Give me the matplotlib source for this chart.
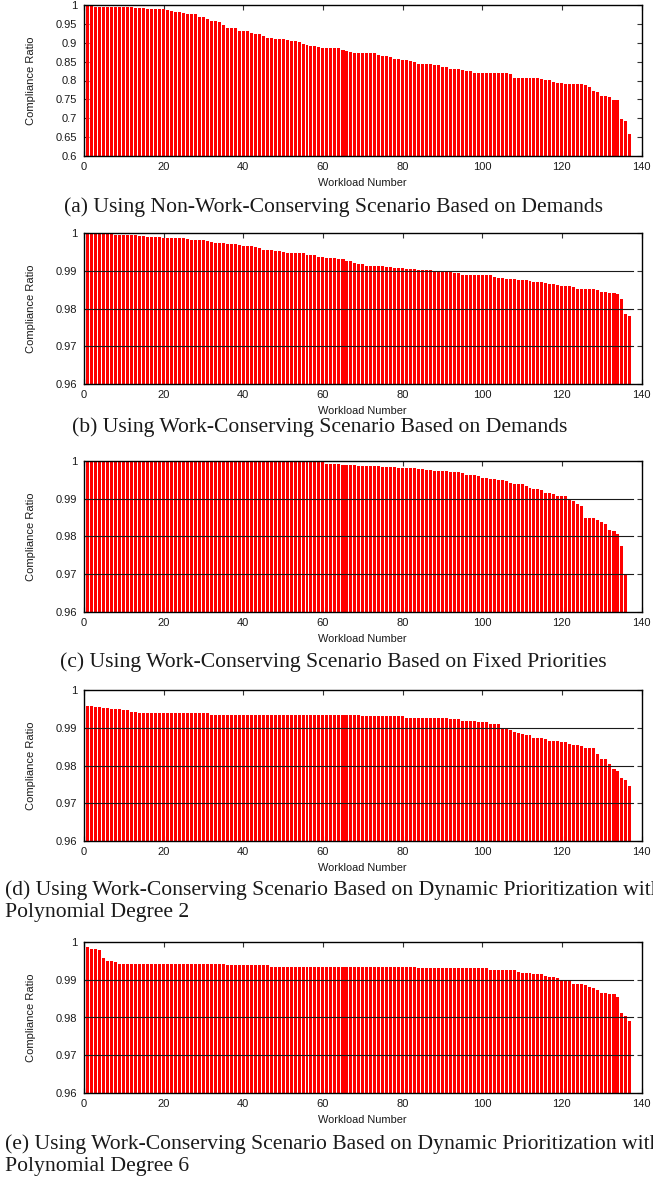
import matplotlib
matplotlib.use("Agg")
import matplotlib.pyplot as plt
import numpy as np

# ---------------- data ----------------
ratio_a = [
    1.000, 0.999, 0.998, 0.996, 0.996, 0.996, 0.996, 0.996, 0.994, 0.994,
    0.994, 0.994, 0.994, 0.992, 0.992, 0.992, 0.989, 0.989, 0.989, 0.989,
    0.989, 0.986, 0.983, 0.982, 0.982, 0.980, 0.977, 0.975, 0.975, 0.968,
    0.968, 0.962, 0.957, 0.957, 0.954, 0.948, 0.938, 0.938, 0.938, 0.930,
    0.930, 0.930, 0.925, 0.922, 0.922, 0.917, 0.913, 0.913, 0.911, 0.911,
    0.909, 0.906, 0.905, 0.905, 0.903, 0.896, 0.893, 0.891, 0.891, 0.888,
    0.885, 0.885, 0.885, 0.885, 0.885, 0.882, 0.878, 0.876, 0.872, 0.872,
    0.872, 0.872, 0.872, 0.872, 0.868, 0.864, 0.864, 0.861, 0.858, 0.858,
    0.855, 0.855, 0.852, 0.849, 0.843, 0.843, 0.843, 0.843, 0.840, 0.840,
    0.837, 0.835, 0.831, 0.831, 0.831, 0.829, 0.826, 0.824, 0.821, 0.821,
    0.821, 0.821, 0.821, 0.821, 0.821, 0.821, 0.821, 0.817, 0.806, 0.806,
    0.806, 0.806, 0.806, 0.806, 0.806, 0.803, 0.801, 0.801, 0.797, 0.794,
    0.794, 0.791, 0.791, 0.791, 0.791, 0.791, 0.789, 0.783, 0.772, 0.770,
    0.760, 0.758, 0.755, 0.749, 0.749, 0.698, 0.693, 0.659,
]

ratio_b = [
    1.0000, 1.0000, 1.0000, 1.0000, 1.0000, 1.0000, 1.0000, 1.0000, 0.9996, 0.9996,
    0.9996, 0.9996, 0.9996, 0.9996, 0.9993, 0.9993, 0.9990, 0.9990, 0.9990, 0.9990,
    0.9988, 0.9988, 0.9988, 0.9988, 0.9988, 0.9988, 0.9985, 0.9982, 0.9982, 0.9982,
    0.9982, 0.9980, 0.9977, 0.9974, 0.9974, 0.9974, 0.9972, 0.9972, 0.9972, 0.9969,
    0.9966, 0.9966, 0.9966, 0.9964, 0.9961, 0.9955, 0.9955, 0.9955, 0.9953, 0.9953,
    0.9950, 0.9948, 0.9948, 0.9948, 0.9948, 0.9948, 0.9942, 0.9942, 0.9942, 0.9937,
    0.9937, 0.9934, 0.9934, 0.9934, 0.9931, 0.9931, 0.9926, 0.9926, 0.9920, 0.9918,
    0.9918, 0.9913, 0.9913, 0.9913, 0.9913, 0.9913, 0.9910, 0.9910, 0.9908, 0.9908,
    0.9908, 0.9905, 0.9905, 0.9905, 0.9903, 0.9903, 0.9903, 0.9903, 0.9900, 0.9900,
    0.9900, 0.9900, 0.9900, 0.9894, 0.9894, 0.9890, 0.9890, 0.9890, 0.9890, 0.9888,
    0.9888, 0.9888, 0.9888, 0.9885, 0.9882, 0.9882, 0.9880, 0.9880, 0.9880, 0.9877,
    0.9877, 0.9877, 0.9874, 0.9872, 0.9872, 0.9872, 0.9869, 0.9866, 0.9866, 0.9863,
    0.9861, 0.9861, 0.9861, 0.9858, 0.9853, 0.9853, 0.9853, 0.9853, 0.9853, 0.9850,
    0.9845, 0.9845, 0.9842, 0.9842, 0.9840, 0.9826, 0.9786, 0.9780,
]

ratio_c = [
    1.0000, 1.0000, 1.0000, 1.0000, 1.0000, 1.0000, 1.0000, 1.0000, 1.0000, 1.0000,
    1.0000, 1.0000, 1.0000, 1.0000, 1.0000, 1.0000, 1.0000, 1.0000, 1.0000, 1.0000,
    1.0000, 1.0000, 1.0000, 1.0000, 1.0000, 1.0000, 1.0000, 1.0000, 1.0000, 1.0000,
    1.0000, 1.0000, 1.0000, 1.0000, 1.0000, 1.0000, 1.0000, 1.0000, 1.0000, 1.0000,
    1.0000, 1.0000, 1.0000, 1.0000, 1.0000, 1.0000, 1.0000, 1.0000, 1.0000, 1.0000,
    1.0000, 1.0000, 1.0000, 1.0000, 1.0000, 1.0000, 1.0000, 1.0000, 1.0000, 1.0000,
    1.0000, 0.9993, 0.9993, 0.9993, 0.9993, 0.9990, 0.9990, 0.9990, 0.9990, 0.9988,
    0.9988, 0.9988, 0.9988, 0.9988, 0.9988, 0.9985, 0.9985, 0.9985, 0.9985, 0.9982,
    0.9982, 0.9982, 0.9982, 0.9982, 0.9980, 0.9980, 0.9977, 0.9977, 0.9974, 0.9974,
    0.9974, 0.9974, 0.9972, 0.9972, 0.9972, 0.9969, 0.9964, 0.9964, 0.9964, 0.9961,
    0.9956, 0.9956, 0.9953, 0.9953, 0.9950, 0.9950, 0.9948, 0.9942, 0.9940, 0.9940,
    0.9940, 0.9935, 0.9929, 0.9927, 0.9927, 0.9924, 0.9916, 0.9916, 0.9913, 0.9908,
    0.9908, 0.9908, 0.9900, 0.9895, 0.9887, 0.9881, 0.9850, 0.9850, 0.9850, 0.9844,
    0.9839, 0.9834, 0.9818, 0.9814, 0.9807, 0.9775, 0.9700,
]

ratio_d = [
    0.9959, 0.9957, 0.9957, 0.9954, 0.9954, 0.9951, 0.9951, 0.9949, 0.9949, 0.9949,
    0.9946, 0.9946, 0.9943, 0.9943, 0.9940, 0.9940, 0.9940, 0.9940, 0.9940, 0.9940,
    0.9940, 0.9940, 0.9940, 0.9938, 0.9938, 0.9938, 0.9938, 0.9938, 0.9938, 0.9938,
    0.9938, 0.9938, 0.9935, 0.9935, 0.9935, 0.9935, 0.9935, 0.9935, 0.9935, 0.9935,
    0.9935, 0.9935, 0.9935, 0.9935, 0.9935, 0.9935, 0.9935, 0.9935, 0.9935, 0.9935,
    0.9935, 0.9935, 0.9933, 0.9933, 0.9933, 0.9933, 0.9933, 0.9933, 0.9933, 0.9933,
    0.9933, 0.9933, 0.9933, 0.9933, 0.9933, 0.9933, 0.9933, 0.9933, 0.9933, 0.9933,
    0.9930, 0.9930, 0.9930, 0.9930, 0.9930, 0.9930, 0.9930, 0.9930, 0.9930, 0.9930,
    0.9930, 0.9927, 0.9927, 0.9927, 0.9927, 0.9927, 0.9927, 0.9927, 0.9925, 0.9925,
    0.9925, 0.9925, 0.9922, 0.9922, 0.9922, 0.9919, 0.9919, 0.9919, 0.9919, 0.9914,
    0.9914, 0.9914, 0.9911, 0.9909, 0.9909, 0.9900, 0.9900, 0.9895, 0.9890, 0.9887,
    0.9884, 0.9882, 0.9882, 0.9874, 0.9874, 0.9874, 0.9869, 0.9866, 0.9864, 0.9864,
    0.9861, 0.9861, 0.9858, 0.9855, 0.9855, 0.9851, 0.9847, 0.9847, 0.9847, 0.9830,
    0.9816, 0.9816, 0.9803, 0.9790, 0.9785, 0.9766, 0.9761, 0.9745,
]

ratio_e = [
    0.9986, 0.9986, 0.9981, 0.9981, 0.9978, 0.9957, 0.9949, 0.9949, 0.9946, 0.9943,
    0.9943, 0.9943, 0.9943, 0.9943, 0.9943, 0.9941, 0.9941, 0.9941, 0.9941, 0.9941,
    0.9941, 0.9941, 0.9941, 0.9941, 0.9941, 0.9941, 0.9941, 0.9941, 0.9941, 0.9941,
    0.9941, 0.9941, 0.9941, 0.9941, 0.9941, 0.9941, 0.9938, 0.9938, 0.9938, 0.9938,
    0.9938, 0.9938, 0.9938, 0.9938, 0.9938, 0.9938, 0.9938, 0.9935, 0.9935, 0.9935,
    0.9935, 0.9935, 0.9935, 0.9935, 0.9935, 0.9935, 0.9935, 0.9935, 0.9935, 0.9933,
    0.9933, 0.9933, 0.9933, 0.9933, 0.9933, 0.9933, 0.9933, 0.9933, 0.9933, 0.9933,
    0.9933, 0.9933, 0.9933, 0.9933, 0.9933, 0.9933, 0.9933, 0.9933, 0.9933, 0.9933,
    0.9933, 0.9933, 0.9933, 0.9933, 0.9930, 0.9930, 0.9930, 0.9930, 0.9930, 0.9930,
    0.9930, 0.9930, 0.9930, 0.9930, 0.9930, 0.9930, 0.9930, 0.9930, 0.9930, 0.9930,
    0.9930, 0.9930, 0.9927, 0.9927, 0.9927, 0.9927, 0.9925, 0.9925, 0.9925, 0.9920,
    0.9917, 0.9917, 0.9917, 0.9914, 0.9914, 0.9914, 0.9909, 0.9906, 0.9906, 0.9904,
    0.9900, 0.9900, 0.9900, 0.9890, 0.9890, 0.9888, 0.9885, 0.9880, 0.9877, 0.9872,
    0.9866, 0.9866, 0.9861, 0.9861, 0.9853, 0.9813, 0.9805, 0.9792,
]

captions = [
    ["(a) Using Non-Work-Conserving Scenario Based on Demands"],
    ["(b) Using Work-Conserving Scenario Based on Demands"],
    ["(c) Using Work-Conserving Scenario Based on Fixed Priorities"],
    ["(d) Using Work-Conserving Scenario Based on Dynamic Prioritization with",
     "Polynomial Degree 2"],
    ["(e) Using Work-Conserving Scenario Based on Dynamic Prioritization with",
     "Polynomial Degree 6"],
]

x_ticks = [0, 20, 40, 60, 80, 100, 120, 140]
y_ticks_a = [0.6, 0.65, 0.7, 0.75, 0.8, 0.85, 0.9, 0.95, 1.0]
y_ticks_rest = [0.96, 0.97, 0.98, 0.99, 1.0]
grid_rest = [0.97, 0.98, 0.99]

# ---------------- layout ----------------
W, H = 653, 1183
fig = plt.figure(figsize=(W / 100, H / 100), dpi=100)

sans = ["Liberation Sans", "DejaVu Sans"]
serif = ["Liberation Serif", "DejaVu Serif"]

left_px, right_px = 84, 641.5
panels_px = [(5, 156), (233.3, 384), (461, 612), (690, 841), (942, 1093)]
series = [ratio_a, ratio_b, ratio_c, ratio_d, ratio_e]
ylims = [(0.6, 1.0)] + [(0.96, 1.0)] * 4
yticks = [y_ticks_a] + [y_ticks_rest] * 4
grids = [[]] + [grid_rest] * 4

# caption placement: x_px, ha, y_px of each line
cap_pos = [(333, "center", [207]), (320, "center", [427]), (333, "center", [662]),
           (5, "left", [890, 913]), (5, "left", [1144, 1167])]

for k in range(5):
    top, bot = panels_px[k]
    ax = fig.add_axes([left_px / W, 1 - bot / H, (right_px - left_px) / W, (bot - top) / H])
    vals = series[k]
    idx = np.arange(len(vals))
    y0, y1 = ylims[k]
    bars = ax.bar(idx, np.array(vals) - y0, bottom=y0, width=0.75,
                  color="#ff0000", linewidth=0, zorder=2)
    # rasterisation artefacts of the original: two places where the gap vanishes
    bars[65].set_width(1.0)
    bars[133].set_width(1.0)
    ax.set_axisbelow(True)
    for g in grids[k]:
        ax.axhline(g, xmin=0, xmax=0.985, color="#1a1a1a", lw=0.8, zorder=3)
    ax.set_xlim(0, 140)
    ax.set_ylim(y0, y1)
    ax.set_xticks(x_ticks)
    ax.set_yticks(yticks[k])
    ax.set_xticklabels([f"{t:g}" for t in x_ticks])
    ax.set_yticklabels([f"{t:g}" for t in yticks[k]])
    ax.tick_params(direction="in", length=3.5, width=0.8, top=True, right=True,
                   labelsize=8, color="#333333", labelcolor="#1a1a1a")
    ax.tick_params(axis="y", pad=4.8)
    ax.tick_params(axis="x", pad=4.5)
    for lab in ax.get_xticklabels() + ax.get_yticklabels():
        lab.set_family(sans)
    for s in ax.spines.values():
        s.set_linewidth(1.0)
        s.set_color("black")
        s.set_zorder(4)
    ax.set_ylabel("Compliance Ratio", family=sans, fontsize=8, color="#1a1a1a")
    ax.set_xlabel("Workload Number", family=sans, fontsize=7.9, color="#1a1a1a")
    ax.yaxis.set_label_coords(-0.095, 0.5)
    ax.xaxis.set_label_coords(0.5, -0.18)
    ax.xaxis.label.set_va("center")
    ax.yaxis.label.set_va("center")

    cx, ha, ys = cap_pos[k]
    for line, cy in zip(captions[k], ys):
        fig.text(cx / W, 1 - cy / H, line, family=serif, fontsize=15.6,
                 ha=ha, va="center", color="#1a1a1a")

fig.savefig("out.png", dpi=100)
